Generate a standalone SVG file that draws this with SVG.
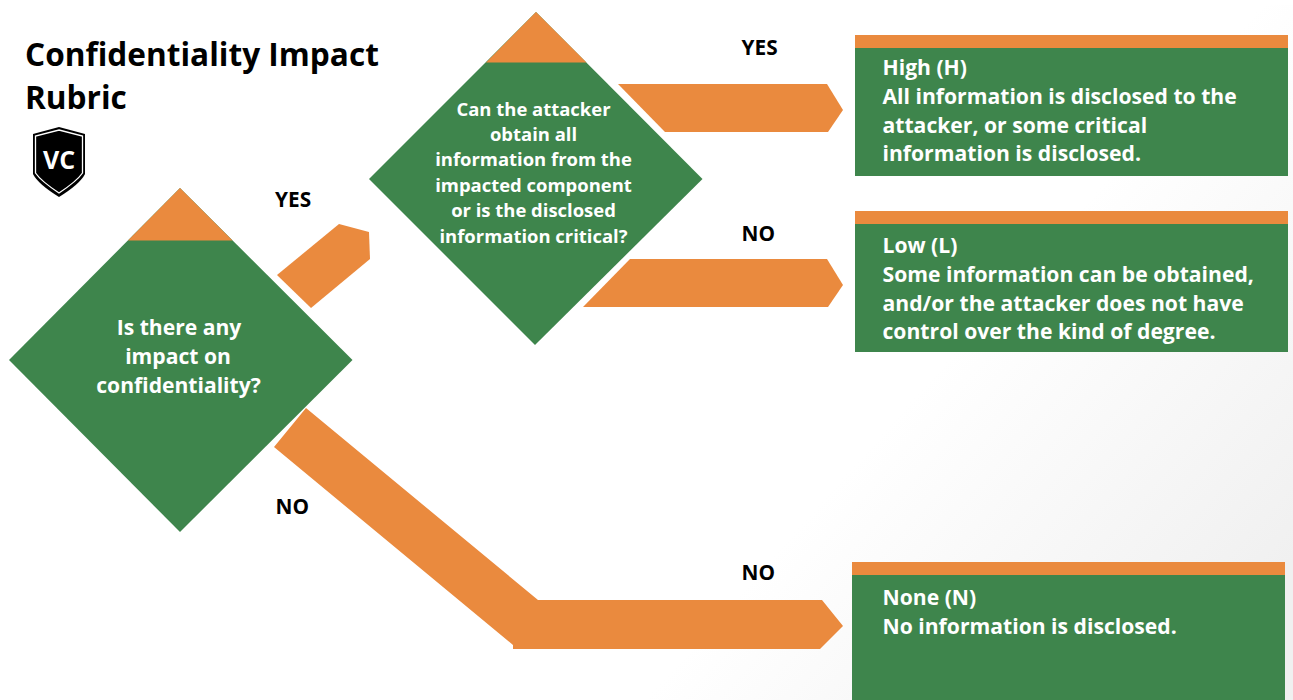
<svg xmlns="http://www.w3.org/2000/svg" width="1293" height="700" viewBox="0 0 1293 700">
<style>
text{font-family:"Open Sans","Noto Sans","Liberation Sans",sans-serif;font-weight:700}
.g{fill:#3e854c}.o{fill:#ea8a3e}
.t{fill:#000;font-size:31.6px}
.l{fill:#000;font-size:20.8px}
.b{fill:#fff;font-size:21.15px}
.d{fill:#fff;font-size:18.45px;text-anchor:middle}
.e{fill:#fff;font-size:21.1px;text-anchor:middle}
</style>
<defs><linearGradient id="bg" gradientUnits="userSpaceOnUse" x1="1000" y1="300" x2="1293" y2="560"><stop offset="0" stop-color="#fff"/><stop offset="1" stop-color="#f0f0f0"/></linearGradient></defs>
<rect width="1293" height="700" fill="#fff"/>
<rect y="5" width="1293" height="695" fill="url(#bg)"/>
<g id="title"><text class="t" x="25" y="66">Confidentiality Impact</text><text class="t" x="25" y="109">Rubric</text></g>
<g id="logo"><path d="M59 127L85 134V174Q80 184 59 197Q38 184 33 174V134Z" fill="#000"/><path d="M59 130L82.500 136V173Q77 181 59 193Q41 181 35.500 173V136Z" fill="none" stroke="#fff" stroke-width="1.300"/><text x="59" y="168.500" fill="#fff" font-size="25" text-anchor="middle">VC</text></g>
<g id="connectors">
<path class="o" d="M277 275L339 224L369 232L370 259L311 308Z"/>
<path class="o" d="M618 84H827L843 110L828 132H665Z"/>
<path class="o" d="M630 259H827L843 285L828 307H583Z"/>
<path class="o" d="M306 408L538 600H822L843 626L820 649H513V645L274 447Z"/>
</g>
<g id="decision-impact"><path class="g" d="M180 188L352.500 360L180 532L9 360Z"/><path class="o" d="M180 188L232.500 240.500H128Z"/>
<text class="e" x="179" y="335">Is there any</text><text class="e" x="178" y="364">impact on</text><text class="e" x="178.500" y="393">confidentiality?</text></g>
<g id="decision-critical"><path class="g" d="M536 12L702.500 179L535 345L369 179Z"/><path class="o" d="M536 12L586.500 62.500H486Z"/>
<text class="d" x="533.500" y="116">Can the attacker</text><text class="d" x="533.500" y="141">obtain all</text><text class="d" x="533.500" y="166">information from the</text><text class="d" x="533.500" y="192">impacted component</text><text class="d" x="533.500" y="217">or is the disclosed</text><text class="d" x="533.500" y="242.500">information critical?</text></g>
<g id="labels"><text class="l" x="275" y="207">YES</text><text class="l" x="741.500" y="55">YES</text><text class="l" x="741.500" y="240.500">NO</text><text class="l" x="275.500" y="513.500">NO</text><text class="l" x="741.500" y="579.500">NO</text></g>
<g id="box-high"><rect class="g" x="855" y="35" width="433" height="141"/><rect class="o" x="855" y="35" width="433" height="13"/>
<text class="b" x="882.500" y="75">High (H)</text><text class="b" x="882.500" y="104">All information is disclosed to the</text><text class="b" x="882.500" y="132.500">attacker, or some critical</text><text class="b" x="882.500" y="161">information is disclosed.</text></g>
<g id="box-low"><rect class="g" x="855" y="211" width="433" height="141"/><rect class="o" x="855" y="211" width="433" height="13"/>
<text class="b" x="882.500" y="253">Low (L)</text><text class="b" x="882.500" y="282">Some information can be obtained,</text><text class="b" x="882.500" y="310.500">and/or the attacker does not have</text><text class="b" x="882.500" y="339">control over the kind of degree.</text></g>
<g id="box-none"><rect class="g" x="852" y="562" width="433" height="138"/><rect class="o" x="852" y="562" width="433" height="13"/>
<text class="b" x="882.500" y="605">None (N)</text><text class="b" x="882.500" y="634">No information is disclosed.</text></g>
</svg>
